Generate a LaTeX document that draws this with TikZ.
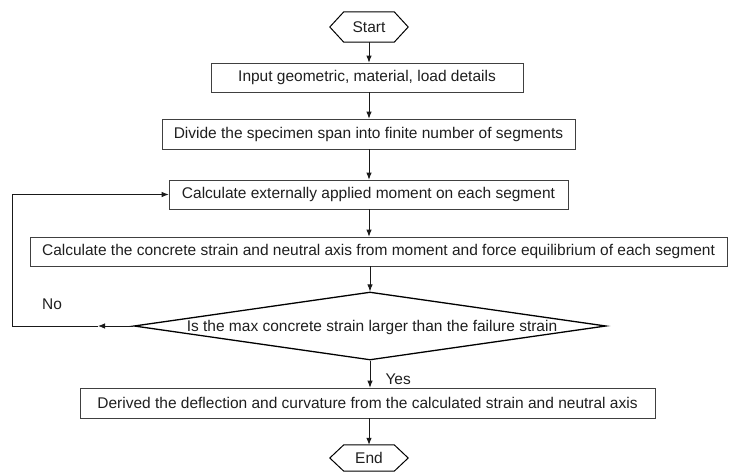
\documentclass[tikz,border=0pt]{standalone}
\usepackage{fontspec}
\setmainfont{Liberation Sans}
\usetikzlibrary{shapes.geometric,arrows.meta}
\begin{document}
\begin{tikzpicture}[x=1pt,y=-1pt,
  every node/.style={font=\fontsize{15.5}{18}\selectfont, text=black!88},
  procbox/.style={draw=black!75, line width=0.8pt, inner sep=0pt, minimum height=29pt},
  hexin/.style={inner sep=0pt, minimum width=50pt},
  hexline/.style={draw=black, line width=1pt},
  decision/.style={diamond, draw=black, line width=1.3pt, inner sep=0pt, minimum width=472pt, minimum height=68pt, aspect=6.94},
  arr/.style={draw=black!90, line width=0.8pt, -{Latex[length=7pt,width=5.5pt]}}]
\path[use as bounding box] (0,0) rectangle (729,472);

% terminals
\node[hexin, minimum height=30pt] (start) at (369,27) {Start};
\draw[hexline] (start.north west) -- (start.north east) -- ([xshift=14pt]start.east)
  -- (start.south east) -- (start.south west) -- ([xshift=-14pt]start.west) -- cycle;

\node[hexin, minimum height=26pt] (end) at (369,458) {End};
\draw[hexline] (end.north west) -- (end.north east) -- ([xshift=14pt]end.east)
  -- (end.south east) -- (end.south west) -- ([xshift=-14pt]end.west) -- cycle;

% process boxes
\node[procbox, minimum width=312pt] (b1) at (367,77.5) {Input geometric, material, load details};
\node[procbox, minimum width=413pt, minimum height=30pt] (b2) at (368.5,134) {Divide the specimen span into finite number of segments};
\node[procbox, minimum width=399pt] (b3) at (368.5,194.5) {Calculate externally applied moment on each segment};
\node[procbox, minimum width=697pt] (b4) at (378.5,251.5) {Calculate the concrete strain and neutral axis from moment and force equilibrium of each segment};
\node[decision] (dia) at (370,326) {};
\node (diat) at (372,327) {Is the max concrete strain larger than the failure strain};
\node[procbox, minimum width=575pt, minimum height=30pt] (b5) at (367.5,403) {Derived the deflection and curvature from the calculated strain and neutral axis};

% labels
\node[anchor=west] (yes) at (382,379) {Yes};
\node (no) at (52,304) {No};

% connectors
\draw[arr] (start.south) -- (b1.north -| start);
\draw[arr] (b1.south -| start) -- (b2.north -| start);
\draw[arr] (b2.south -| start) -- (b3.north -| start);
\draw[arr] (b3.south -| start) -- (b4.north -| start);
\draw[arr] (b4.south -| dia) -- (dia.north);
\draw[arr] (dia.south) -- (b5.north -| dia);
\draw[arr] (b5.south -| end) -- (end.north);

\coordinate (nomid) at (98,326);
\coordinate (loopbl) at (12,326);
\coordinate (looptl) at (12,194.5);
\draw[arr] (dia.west) -- (nomid);
\draw[arr] (nomid) -- (loopbl) -- (looptl) -- (b3.west);
\end{tikzpicture}
\end{document}
